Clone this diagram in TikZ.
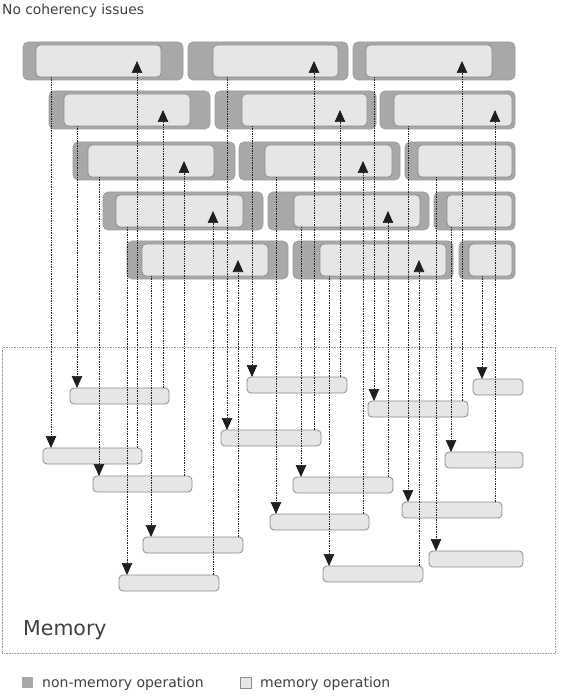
\documentclass[tikz,border=0pt]{standalone}
\usepackage{fontspec}
\setmainfont{DejaVu Sans}
\usetikzlibrary{arrows.meta}

\definecolor{opdark}{HTML}{A8A8AA}
\definecolor{opdarkline}{HTML}{9A9A9C}
\definecolor{oplight}{HTML}{E6E6E8}
\definecolor{oplightline}{HTML}{8C8C8E}
\definecolor{linkgray}{HTML}{1E1E1E}
\definecolor{framegray}{HTML}{9A9A9A}
\definecolor{textgray}{HTML}{404040}

\tikzset{
  nonmem/.style={anchor=north west, inner sep=0pt, outer sep=0pt,
    minimum height=38pt, rounded corners=5pt,
    fill=opdark, draw=opdarkline, line width=0.6pt},
  memop/.style={anchor=north west, inner sep=0pt, outer sep=0pt,
    rounded corners=4pt, fill=oplight, draw=oplightline, line width=0.8pt},
  threadop/.style={memop, minimum height=32pt},
  cellop/.style={memop, minimum height=16pt},
  access/.style={densely dotted, line width=0.7pt, draw=linkgray,
    -{Triangle[width=10.5pt,length=12pt,fill=linkgray]}},
  keybox/.style={anchor=north west, inner sep=0pt, minimum size=11pt},
  label/.style={anchor=base west, text=textgray, inner sep=0pt},
}

\begin{document}
\begin{tikzpicture}[x=1pt, y=-1pt]
\useasboundingbox (0,0) rectangle (560,700);

\node[label, font=\fontsize{13.8}{16}\selectfont] (title) at (2,15) {No coherency issues};

% operation rows
\node[nonmem, minimum width=160pt] (oA1) at (23,42) {};
\node[nonmem, minimum width=160pt] (oB1) at (188,42) {};
\node[nonmem, minimum width=162pt] (oC1) at (353,42) {};
\node[threadop, minimum width=125pt] (iA1) at (36,45) {};
\node[threadop, minimum width=125pt] (iB1) at (213,45) {};
\node[threadop, minimum width=126pt] (iC1) at (366,45) {};

\node[nonmem, minimum width=161pt] (oA2) at (49,91) {};
\node[nonmem, minimum width=161pt] (oB2) at (215,91) {};
\node[nonmem, minimum width=135pt] (oC2) at (380,91) {};
\node[threadop, minimum width=126pt] (iA2) at (64,94) {};
\node[threadop, minimum width=125pt] (iB2) at (242,94) {};
\node[threadop, minimum width=118pt] (iC2) at (394,94) {};

\node[nonmem, minimum width=162pt] (oA3) at (73,142) {};
\node[nonmem, minimum width=161pt] (oB3) at (239,142) {};
\node[nonmem, minimum width=110pt] (oC3) at (405,142) {};
\node[threadop, minimum width=126pt] (iA3) at (88,145) {};
\node[threadop, minimum width=127pt] (iB3) at (265,145) {};
\node[threadop, minimum width=94pt] (iC3) at (418,145) {};

\node[nonmem, minimum width=160pt] (oA4) at (103,192) {};
\node[nonmem, minimum width=161pt] (oB4) at (268,192) {};
\node[nonmem, minimum width=81pt] (oC4) at (434,192) {};
\node[threadop, minimum width=127pt] (iA4) at (116,195) {};
\node[threadop, minimum width=126pt] (iB4) at (294,195) {};
\node[threadop, minimum width=65pt] (iC4) at (447,195) {};

\node[nonmem, minimum width=161pt] (oA5) at (127,241) {};
\node[nonmem, minimum width=160pt] (oB5) at (293,241) {};
\node[nonmem, minimum width=56pt] (oC5) at (459,241) {};
\node[threadop, minimum width=126pt] (iA5) at (142,244) {};
\node[threadop, minimum width=126pt] (iB5) at (320,244) {};
\node[threadop, minimum width=43pt] (iC5) at (469,244) {};

%%%%%%%%%%%%%%%%%%%%%%%%%%%%%%%%%%%%%%%%

\node[anchor=north west, inner sep=0pt, minimum width=553pt, minimum height=306pt,
  draw=framegray, densely dotted, line width=0.6pt] (memory) at (2,347) {};
\node[label, font=\fontsize{20.5}{24}\selectfont] (memname) at (23,635) {Memory};

\node[cellop, minimum width=99pt] (mA1) at (43,448) {};
\node[cellop, minimum width=99pt] (mA2) at (70,388) {};
\node[cellop, minimum width=99pt] (mA3) at (93,476) {};
\node[cellop, minimum width=100pt] (mA4) at (119,575) {};
\node[cellop, minimum width=100pt] (mA5) at (143,537) {};
\node[cellop, minimum width=100pt] (mB1) at (221,430) {};
\node[cellop, minimum width=100pt] (mB2) at (247,377) {};
\node[cellop, minimum width=99pt] (mB3) at (270,514) {};
\node[cellop, minimum width=100pt] (mB4) at (293,477) {};
\node[cellop, minimum width=100pt] (mB5) at (323,566) {};
\node[cellop, minimum width=100pt] (mC1) at (368,401) {};
\node[cellop, minimum width=100pt] (mC2) at (402,502) {};
\node[cellop, minimum width=94pt] (mC3) at (429,551) {};
\node[cellop, minimum width=78pt] (mC4) at (445,452) {};
\node[cellop, minimum width=50pt] (mC5) at (473,379) {};

%%%%%%%%%%%%%%%%%%%%%%%%%%%%%%%%%%%%%%%%

% stores going down, loads coming back up
\draw[access] (iA1.south -| 51,0) -- (mA1.north -| 51,0);
\draw[access] (mA1.north -| 137,0) -- (iA1.center -| 137,0);
\draw[access] (iA2.south -| 77,0) -- (mA2.north -| 77,0);
\draw[access] (mA2.north -| 163,0) -- (iA2.center -| 163,0);
\draw[access] (iA3.south -| 99,0) -- (mA3.north -| 99,0);
\draw[access] (mA3.north -| 184,0) -- (iA3.center -| 184,0);
\draw[access] (iA4.south -| 127,0) -- (mA4.north -| 127,0);
\draw[access] (mA4.north -| 213,0) -- (iA4.center -| 213,0);
\draw[access] (iA5.south -| 151,0) -- (mA5.north -| 151,0);
\draw[access] (mA5.north -| 238,0) -- (iA5.center -| 238,0);

\draw[access] (iB1.south -| 227,0) -- (mB1.north -| 227,0);
\draw[access] (mB1.north -| 314,0) -- (iB1.center -| 314,0);
\draw[access] (iB2.south -| 252,0) -- (mB2.north -| 252,0);
\draw[access] (mB2.north -| 340,0) -- (iB2.center -| 340,0);
\draw[access] (iB3.south -| 276,0) -- (mB3.north -| 276,0);
\draw[access] (mB3.north -| 363,0) -- (iB3.center -| 363,0);
\draw[access] (iB4.south -| 301,0) -- (mB4.north -| 301,0);
\draw[access] (mB4.north -| 388,0) -- (iB4.center -| 388,0);
\draw[access] (iB5.south -| 329,0) -- (mB5.north -| 329,0);
\draw[access] (mB5.north -| 419,0) -- (iB5.center -| 419,0);

\draw[access] (iC1.south -| 374,0) -- (mC1.north -| 374,0);
\draw[access] (mC1.north -| 462,0) -- (iC1.center -| 462,0);
\draw[access] (iC2.south -| 408,0) -- (mC2.north -| 408,0);
\draw[access] (mC2.north -| 495,0) -- (iC2.center -| 495,0);
\draw[access] (iC3.south -| 436,0) -- (mC3.north -| 436,0);
\draw[access] (iC4.south -| 451,0) -- (mC4.north -| 451,0);
\draw[access] (iC5.south -| 482,0) -- (mC5.north -| 482,0);

%%%%%%%%%%%%%%%%%%%%%%%%%%%%%%%%%%%%%%%%

\node[keybox, fill=opdark] (keydark) at (22,677) {};
\node[label, font=\fontsize{14}{16}\selectfont] (keydarktext) at (42,687) {non-memory operation};
\node[keybox, fill=oplight, draw=oplightline, line width=0.6pt] (keylight) at (240,677) {};
\node[label, font=\fontsize{14}{16}\selectfont] (keylighttext) at (260,687) {memory operation};
\end{tikzpicture}
\end{document}
